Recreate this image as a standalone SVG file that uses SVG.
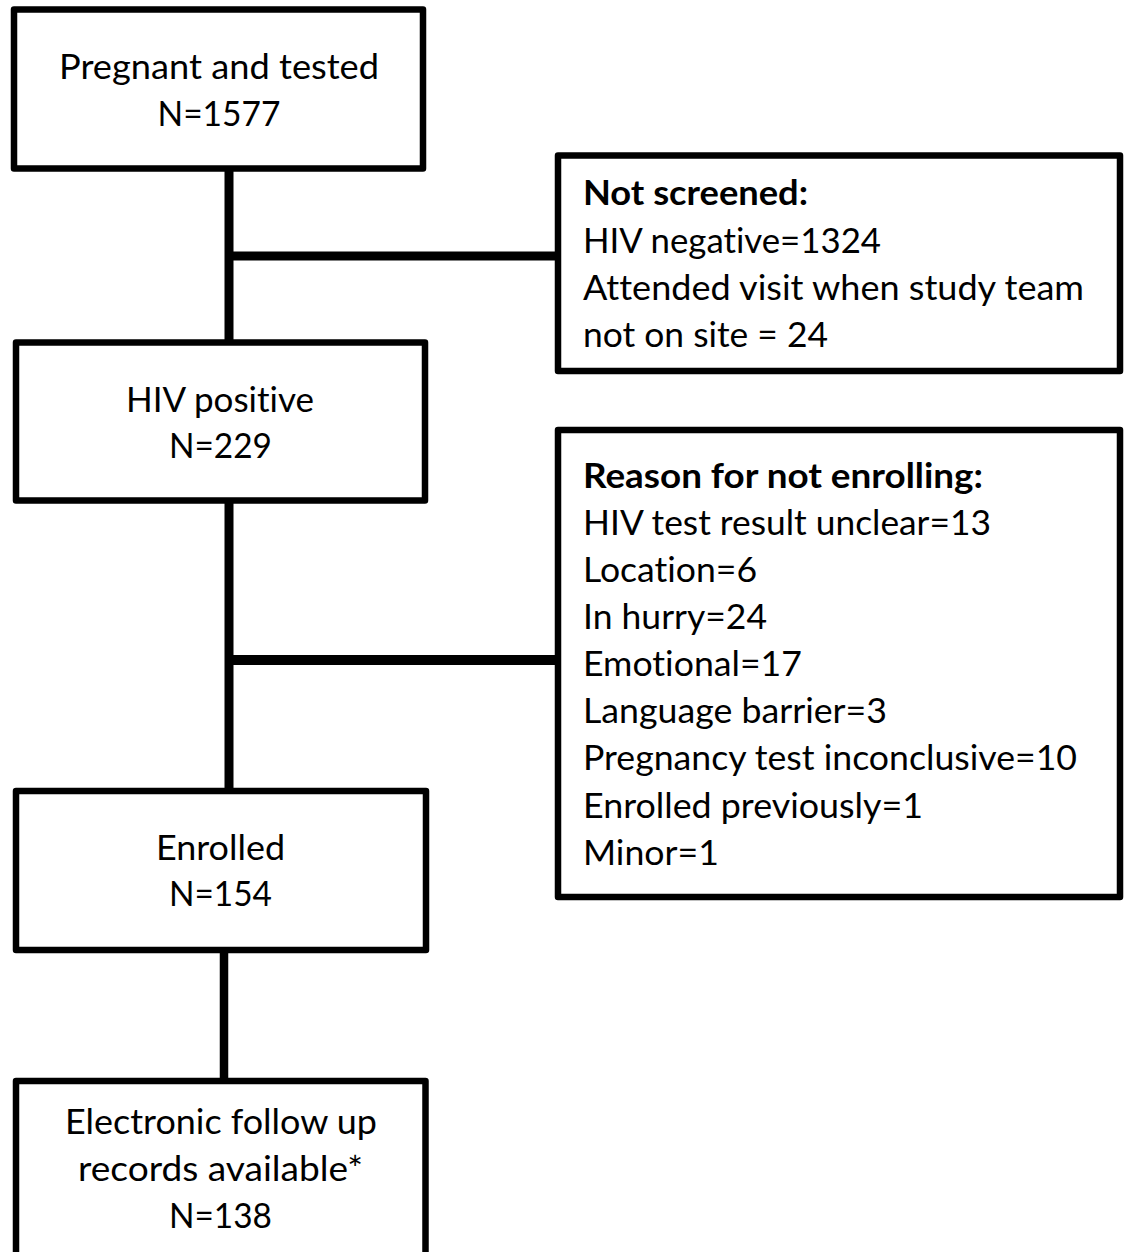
<svg xmlns="http://www.w3.org/2000/svg" width="1126" height="1252" viewBox="0 0 1126 1252">
<style>
.box{fill:#fff;stroke:#000;stroke-width:6.5;stroke-linejoin:round}
.conn{stroke:#000;fill:none}
text{font-family:Lato,"Open Sans","Liberation Sans",sans-serif;font-size:35px;fill:#000;font-variant-ligatures:none;font-feature-settings:"liga" 0}
.c{text-anchor:middle}
.b{font-weight:bold}
</style>
<rect width="1126" height="1252" fill="#fff"/>
<g id="connectors">
<line class="conn" x1="229" y1="168" x2="229" y2="343" stroke-width="9"/>
<line class="conn" x1="229" y1="256" x2="558" y2="256" stroke-width="9"/>
<line class="conn" x1="229" y1="500" x2="229" y2="791" stroke-width="9"/>
<line class="conn" x1="229" y1="660" x2="558" y2="660" stroke-width="10"/>
<line class="conn" x1="224" y1="950" x2="224" y2="1081" stroke-width="8.5"/>
</g>
<g id="n-pregnant">
<rect class="box" x="14" y="9.5" width="409" height="159"/>
<text class="c" x="219" y="79" textLength="320" lengthAdjust="spacingAndGlyphs">Pregnant and tested</text>
<text class="c" x="219" y="126" textLength="123" lengthAdjust="spacingAndGlyphs">N=1577</text>
</g>
<g id="n-notscreened">
<rect class="box" x="558" y="155.5" width="562" height="215.5"/>
<text class="b" x="583" y="205" textLength="225" lengthAdjust="spacingAndGlyphs">Not screened:</text>
<text x="583" y="253" textLength="298" lengthAdjust="spacingAndGlyphs">HIV negative=1324</text>
<text x="583" y="300" textLength="501" lengthAdjust="spacingAndGlyphs">Attended visit when study team</text>
<text x="583" y="347" textLength="245" lengthAdjust="spacingAndGlyphs">not on site = 24</text>
</g>
<g id="n-hivpos">
<rect class="box" x="16" y="342.5" width="409" height="158"/>
<text class="c" x="220" y="412" textLength="188" lengthAdjust="spacingAndGlyphs">HIV positive</text>
<text class="c" x="220.5" y="458" textLength="103" lengthAdjust="spacingAndGlyphs">N=229</text>
</g>
<g id="n-reason">
<rect class="box" x="558" y="430" width="562" height="467"/>
<text class="b" x="583" y="488" textLength="400" lengthAdjust="spacingAndGlyphs">Reason for not enrolling:</text>
<text x="583" y="535" textLength="408" lengthAdjust="spacingAndGlyphs">HIV test result unclear=13</text>
<text x="583" y="582" textLength="174" lengthAdjust="spacingAndGlyphs">Location=6</text>
<text x="583" y="629" textLength="184" lengthAdjust="spacingAndGlyphs">In hurry=24</text>
<text x="583" y="676" textLength="219" lengthAdjust="spacingAndGlyphs">Emotional=17</text>
<text x="583" y="723" textLength="304" lengthAdjust="spacingAndGlyphs">Language barrier=3</text>
<text x="583" y="770" textLength="494" lengthAdjust="spacingAndGlyphs">Pregnancy test inconclusive=10</text>
<text x="583" y="818" textLength="340" lengthAdjust="spacingAndGlyphs">Enrolled previously=1</text>
<text x="583" y="865" textLength="136" lengthAdjust="spacingAndGlyphs">Minor=1</text>
</g>
<g id="n-enrolled">
<rect class="box" x="16" y="791" width="410" height="159"/>
<text class="c" x="220.5" y="860" textLength="129" lengthAdjust="spacingAndGlyphs">Enrolled</text>
<text class="c" x="220.5" y="906" textLength="103" lengthAdjust="spacingAndGlyphs">N=154</text>
</g>
<g id="n-electronic">
<rect class="box" x="16" y="1081" width="409.5" height="190"/>
<text class="c" x="221" y="1134" textLength="312" lengthAdjust="spacingAndGlyphs">Electronic follow up</text>
<text class="c" x="220.5" y="1181" textLength="285" lengthAdjust="spacingAndGlyphs">records available*</text>
<text class="c" x="220.5" y="1228" textLength="103" lengthAdjust="spacingAndGlyphs">N=138</text>
</g>
</svg>
